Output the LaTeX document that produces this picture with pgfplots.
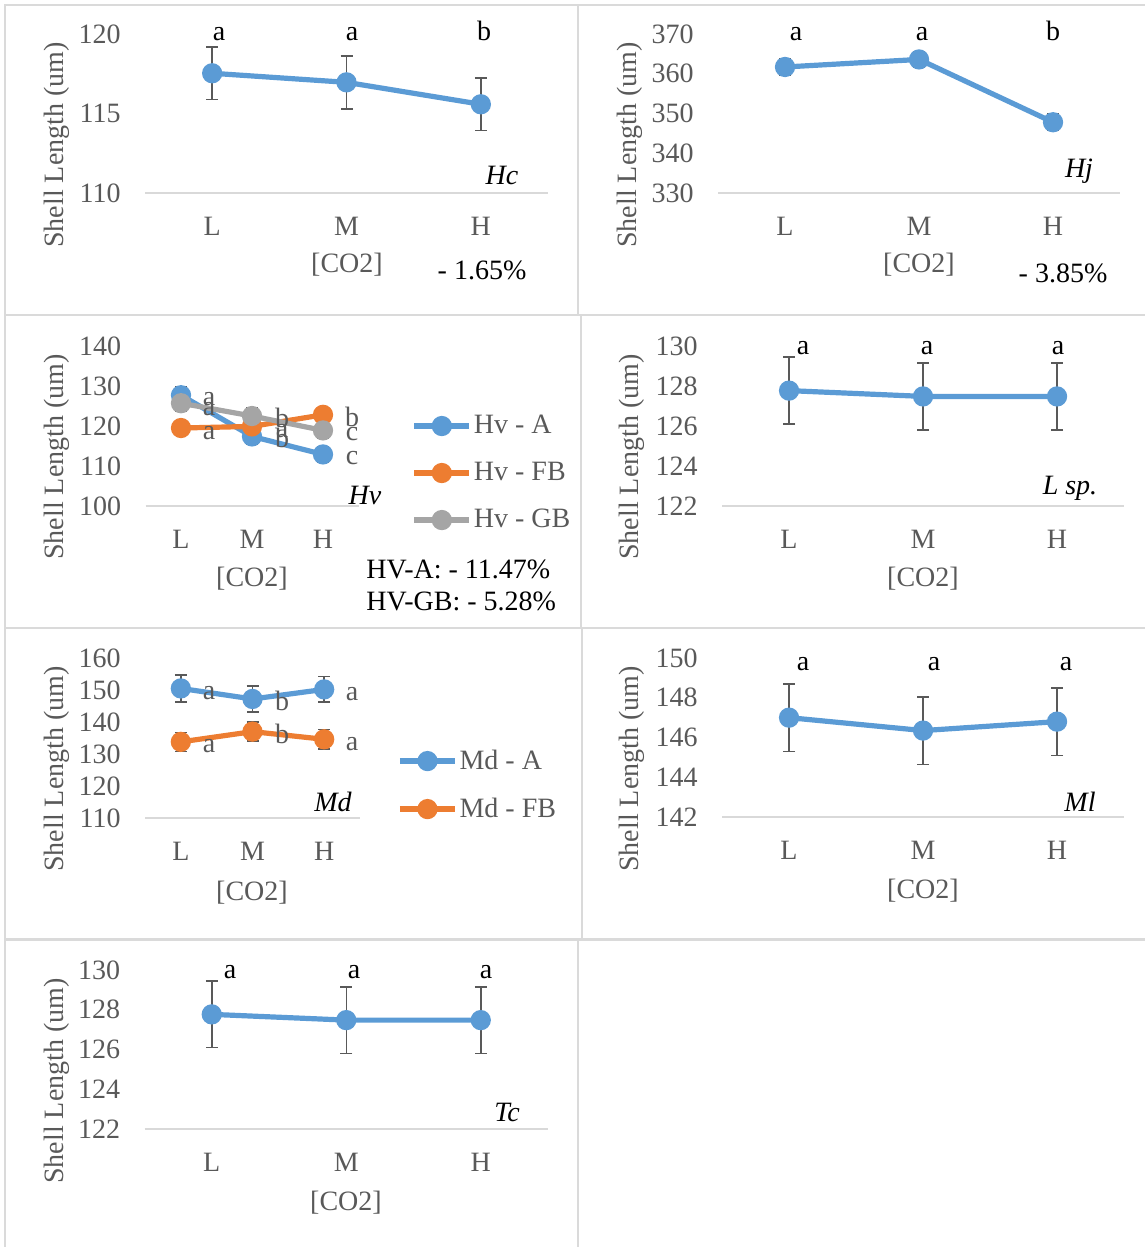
\documentclass[border=0pt]{standalone}
\usepackage{pgfplots}
\pgfplotsset{compat=1.18}
\usepackage{fontspec}
\setmainfont{Liberation Serif}
\definecolor{tickgray}{HTML}{595959}
\definecolor{axgray}{HTML}{D9D9D9}
\definecolor{framegray}{HTML}{DADADA}
\definecolor{cblue}{HTML}{5B9BD5}
\definecolor{corange}{HTML}{ED7D31}
\definecolor{cgray}{HTML}{A5A5A5}
\newcommand{\ff}{\fontsize{14bp}{17bp}\selectfont}
\pgfplotsset{
  panel/.style={
    scale only axis, anchor=south west, clip=false,
    xmin=-0.5, xmax=2.5, xtick={0,1,2}, xticklabels={L,M,H},
    axis line style={draw=none}, tick style={draw=none},
    /pgf/number format/assume math mode=true,
    ticklabel style={font=\ff, text=tickgray},
    yticklabel style={anchor=east, inner sep=0pt, xshift=-12bp},
    xticklabel style={anchor=north, inner sep=0pt, yshift=-11.7bp},
    every axis plot/.append style={line width=2.6bp},
    error bars/error bar style={line width=0.75bp, draw=tickgray, solid},
    error bars/error mark options={rotate=90, mark size=3bp, line width=0.75bp, draw=tickgray},
    legend image code/.code={\draw[mark repeat=2,mark phase=2,#1] plot coordinates {(0bp,0bp) (13.75bp,0bp) (27.5bp,0bp)};},
    execute at begin axis={\draw[axgray, line width=0.75bp] (rel axis cs:0,0) -- (rel axis cs:1,0);},
  },
  legstyle/.style={legend style={draw=none, fill=none, at={#1}, anchor=west, font=\ff, text=tickgray,
    inner sep=0pt, row sep=10.8bp, nodes={inner sep=1bp}}, legend cell align=left},
  sblue/.style={cblue, mark=*, mark size=3.75bp, mark options={fill=cblue, draw=cblue}, error bars/.cd, y dir=both, y explicit},
  sorange/.style={corange, mark=*, mark size=3.75bp, mark options={fill=corange, draw=corange}, error bars/.cd, y dir=both, y explicit},
  sgray/.style={cgray, mark=*, mark size=3.75bp, mark options={fill=cgray, draw=cgray}, error bars/.cd, y dir=both, y explicit},
}
\begin{document}
\begin{tikzpicture}
\begin{scope}[x=0.5bp, y=-0.5bp]
\useasboundingbox (0,0) rectangle (1145,1247);
% frame
\begin{scope}[framegray, line width=1.3bp]
\draw (5,1247) -- (5,5) -- (1145,5);
\draw (5,315) -- (1145,315);
\draw (5,628) -- (1145,628);
\draw (5,939.5) -- (1145,939.5);
\draw (578,5) -- (578,315);
\draw (581,315) -- (581,628);
\draw (582,628) -- (582,939.5);
\draw (578,939.5) -- (578,1247);
\end{scope}
\end{scope}

% ---------- Hc ----------
\begin{axis}[panel, at={(72.5bp,-96.5bp)}, width=201.5bp, height=79.5bp,
  ymin=110, ymax=120, ytick={110,115,120}]
\addplot[sblue] coordinates {(0,117.53) +- (0,1.65) (1,116.96) +- (0,1.67) (2,115.58) +- (0,1.66)};
\end{axis}
% ---------- Hj ----------
\begin{axis}[panel, at={(359bp,-96.5bp)}, width=201bp, height=79.5bp,
  ymin=330, ymax=370, ytick={330,340,350,360,370}]
\addplot[sblue] coordinates {(0,361.7) +- (0,2.0) (1,363.6) +- (0,2.0) (2,347.8) +- (0,2.1)};
\end{axis}
% ---------- Hv ----------
\begin{axis}[panel, at={(72.75bp,-253bp)}, width=106.5bp, height=80bp,
  ymin=100, ymax=140, ytick={100,110,120,130,140}, legstyle={(1.248,0.206)}]
\addplot[sblue] coordinates {(0,127.7) +- (0,2) (1,117.4) +- (0,2) (2,112.9) +- (0,2)};
\addlegendentry{Hv - A}
\addplot[sorange] coordinates {(0,119.5) +- (0,1.5) (1,119.9) +- (0,1.5) (2,122.8) +- (0,1.5)};
\addlegendentry{Hv - FB}
\addplot[sgray] coordinates {(0,125.7) +- (0,2) (1,122.5) +- (0,2) (2,118.9) +- (0,2)};
\addlegendentry{Hv - GB}
\end{axis}
% ---------- L sp. ----------
\begin{axis}[panel, at={(361bp,-253bp)}, width=201bp, height=80bp,
  ymin=122, ymax=130, ytick={122,124,126,128,130}]
\addplot[sblue] coordinates {(0,127.77) +- (0,1.67) (1,127.48) +- (0,1.67) (2,127.48) +- (0,1.67)};
\end{axis}
% ---------- Md ----------
\begin{axis}[panel, at={(72.5bp,-409bp)}, width=107.5bp, height=80bp,
  ymin=110, ymax=160, ytick={110,120,130,140,150,160}, legstyle={(1.172,0.206)}]
\addplot[sblue] coordinates {(0,150.5) +- (0,4.2) (1,147.2) +- (0,4) (2,150.2) +- (0,4)};
\addlegendentry{Md - A}
\addplot[sorange] coordinates {(0,133.8) +- (0,3) (1,137.0) +- (0,3) (2,134.6) +- (0,3)};
\addlegendentry{Md - FB}
\end{axis}
% ---------- Ml ----------
\begin{axis}[panel, at={(361bp,-408.5bp)}, width=201bp, height=79.5bp,
  ymin=142, ymax=150, ytick={142,144,146,148,150}]
\addplot[sblue] coordinates {(0,147.0) +- (0,1.7) (1,146.35) +- (0,1.7) (2,146.8) +- (0,1.7)};
\end{axis}
% ---------- Tc ----------
\begin{axis}[panel, at={(72.25bp,-564.5bp)}, width=201.75bp, height=79.5bp,
  ymin=122, ymax=130, ytick={122,124,126,128,130}]
\addplot[sblue] coordinates {(0,127.77) +- (0,1.67) (1,127.48) +- (0,1.67) (2,127.48) +- (0,1.67)};
\end{axis}

\begin{scope}[x=0.5bp, y=-0.5bp, every node/.style={font=\ff, inner sep=0pt}]
% y labels
\foreach \p in {(57,145),(630,145),(57,457),(632,457),(57,769),(632,769),(57,1081)}
  \node[rotate=90, text=tickgray] at \p {Shell Length (um)};
% [CO2]
\foreach \p in {(347,273),(919,273),(252,586),(923,586),(252,900),(923,898),(346,1210)}
  \node[anchor=base, text=tickgray] at \p {[CO2]};
% significance letters
\node[anchor=base] at (219,41) {a};
\node[anchor=base] at (352,41) {a};
\node[anchor=base] at (484,41) {b};
\node[anchor=base] at (796,41) {a};
\node[anchor=base] at (922,41) {a};
\node[anchor=base] at (1053,41) {b};
\node[anchor=base] at (803,354) {a};
\node[anchor=base] at (927,354) {a};
\node[anchor=base] at (1058,354) {a};
\node[anchor=base] at (803,670) {a};
\node[anchor=base] at (934,670) {a};
\node[anchor=base] at (1066,670) {a};
\node[anchor=base] at (230,978) {a};
\node[anchor=base] at (354,978) {a};
\node[anchor=base] at (486,978) {a};
% Hv letters
\node[anchor=base, text=tickgray] at (209,405) {a};
\node[anchor=base, text=tickgray] at (209,415) {a};
\node[anchor=base, text=tickgray] at (209,439) {a};
\node[anchor=base, text=tickgray] at (282,427) {b};
\node[anchor=base, text=tickgray] at (282,437) {a};
\node[anchor=base, text=tickgray] at (282,447) {b};
\node[anchor=base, text=tickgray] at (352,426) {b};
\node[anchor=base, text=tickgray] at (352,440) {c};
\node[anchor=base, text=tickgray] at (352,464) {c};
% Md letters
\node[anchor=base, text=tickgray] at (209,699) {a};
\node[anchor=base, text=tickgray] at (282,710) {b};
\node[anchor=base, text=tickgray] at (352,700) {a};
\node[anchor=base, text=tickgray] at (209,752) {a};
\node[anchor=base, text=tickgray] at (282,743) {b};
\node[anchor=base, text=tickgray] at (352,750) {a};
% species
\node[anchor=base] at (502,185) {\itshape Hc};
\node[anchor=base] at (1079,178) {\itshape Hj};
\node[anchor=base] at (365,504) {\itshape Hv};
\node[anchor=base] at (1070,494) {\itshape L sp.};
\node[anchor=base] at (333,811) {\itshape Md};
\node[anchor=base] at (1080,811) {\itshape Ml};
\node[anchor=base] at (507,1121) {\itshape Tc};
% percentages
\node[anchor=base] at (482,280) {- 1.65\%};
\node[anchor=base] at (1063,283) {- 3.85\%};
\node[anchor=base west] at (366,578) {HV-A: - 11.47\%};
\node[anchor=base west] at (366,610) {HV-GB: - 5.28\%};
\end{scope}
\end{tikzpicture}
\end{document}
